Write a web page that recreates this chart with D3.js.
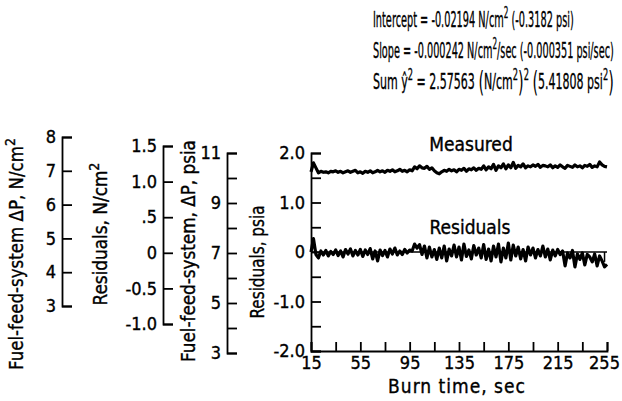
<!DOCTYPE html>
<html>
<head>
<meta charset="utf-8">
<script src="https://cdn.jsdelivr.net/npm/d3@7"></script>
<style>
  body { margin: 0; background: #fff; }
  svg { display: block; }
  text { font-family: "DejaVu Sans Condensed", "DejaVu Sans", sans-serif; font-stretch: condensed; fill: #000; stroke: #000; stroke-width: 0.35; }
  .axis path, .axis line { stroke: #000; stroke-width: 1.8; }
  .axis text { font-size: 18px; fill: #000; font-family: "DejaVu Sans Condensed", "DejaVu Sans", sans-serif; font-stretch: condensed; }
</style>
</head>
<body>
<svg id="chart" width="622" height="401"></svg>
<script>
// burn time every 2 sec
const times = d3.range(15, 256, 2);

// measured pressure drop, psia scale of the main plot (offset)
const measured = [
  1.62, 1.80, 1.70, 1.60, 1.63, 1.61, 1.62, 1.60, 1.63, 1.62,
  1.64, 1.61, 1.63, 1.60, 1.62, 1.64, 1.61, 1.63, 1.65, 1.60,
  1.62, 1.59, 1.63, 1.61, 1.64, 1.60, 1.62, 1.65, 1.62, 1.64,
  1.61, 1.65, 1.63, 1.66, 1.62, 1.64, 1.67, 1.63, 1.65, 1.62,
  1.66, 1.64, 1.72, 1.68, 1.74, 1.70, 1.69, 1.73, 1.67, 1.70,
  1.64, 1.60, 1.58, 1.62, 1.65, 1.63, 1.67, 1.64, 1.66, 1.62,
  1.67, 1.65, 1.69, 1.63, 1.68, 1.66, 1.70, 1.65, 1.69, 1.67,
  1.74, 1.66, 1.72, 1.68, 1.77, 1.65, 1.74, 1.70, 1.78, 1.68,
  1.76, 1.70, 1.81, 1.69, 1.75, 1.72, 1.78, 1.70, 1.74, 1.72,
  1.76, 1.73, 1.77, 1.71, 1.75, 1.74, 1.72, 1.76, 1.70, 1.74,
  1.71, 1.76, 1.72, 1.69, 1.75, 1.73, 1.71, 1.76, 1.72, 1.74,
  1.70, 1.75, 1.73, 1.77, 1.71, 1.74, 1.72, 1.82, 1.76, 1.73,
  1.72
];

// residuals, psia
const residuals = [
  0.00, 0.27, -0.05, -0.12, 0.02, -0.06, 0.03, -0.08, 0.01, -0.05,
  0.04, -0.07, 0.02, -0.10, 0.05, -0.04, 0.06, -0.08, 0.03, -0.06,
  0.05, -0.09, 0.04, -0.05, 0.07, -0.14, 0.02, -0.18, 0.04, -0.07,
  0.03, -0.10, 0.06, -0.04, 0.08, -0.06, 0.02, -0.05, 0.05, -0.02,
  0.04, 0.02, 0.16, 0.08, 0.15, -0.05, 0.12, -0.12, 0.10, -0.10,
  0.05, -0.15, 0.08, -0.12, 0.12, -0.18, 0.06, -0.08, 0.14, -0.10,
  0.10, -0.16, 0.16, -0.09, 0.04, -0.14, 0.13, -0.06, 0.08, -0.12,
  0.15, -0.15, 0.06, -0.18, 0.12, -0.10, 0.16, -0.20, 0.08, -0.12,
  0.18, -0.16, 0.14, -0.08, 0.10, -0.14, 0.05, -0.18, 0.10, -0.06,
  0.08, -0.12, 0.05, -0.08, 0.12, -0.10, 0.06, -0.16, 0.04, -0.08,
  0.05, -0.05, 0.02, -0.28, -0.02, -0.12, 0.03, -0.30, -0.04, -0.15,
  -0.02, -0.26, -0.05, -0.10, -0.20, -0.04, -0.28, -0.08, -0.18, -0.30,
  -0.25
];

// tick values / labels
const xTicks = [15, 35, 55, 75, 95, 115, 135, 155, 175, 195, 215, 235, 255];
const xLabels = [15, 55, 95, 135, 175, 215, 255];
const mainTicks = [-2, -1.5, -1, -0.5, 0, 0.5, 1, 1.5, 2];
const mainLabels = { "-2": "-2.0", "-1": "-1.0", "0": "0", "1": "1.0", "2": "2.0" };
const dpNTicks = [3, 4, 5, 6, 7, 8];
const resNTicks = [-1, -0.5, 0, 0.5, 1, 1.5];
const resNLabels = ["-1.0", "-0.5", "0", ".5", "1.0", "1.5"];
const dpPsiTicks = [3, 4, 5, 6, 7, 8, 9, 10, 11];
const dpPsiLabels = [3, 5, 7, 9, 11];

const svg = d3.select("#chart");

// main scales
const x = d3.scaleLinear().domain([15, 255]).range([311, 607]);
const y = d3.scaleLinear().domain([-2, 2]).range([351, 153]);

// extra scales on the left
const yDpN = d3.scaleLinear().domain([3, 8]).range([306, 137]);
const yResN = d3.scaleLinear().domain([-1, 1.5]).range([324, 146]);
const yDpPsi = d3.scaleLinear().domain([3, 11]).range([353, 153]);

function leftBracketAxis(scale, ticks, fmt, xPos) {
  const ax = d3.axisLeft(scale)
    .tickValues(ticks)
    .tickSizeInner(-10)
    .tickSizeOuter(-10)
    .tickPadding(6)
    .tickFormat(fmt);
  svg.append("g")
    .attr("class", "axis")
    .attr("transform", `translate(${xPos},0)`)
    .call(ax);
}

leftBracketAxis(yDpN, dpNTicks, d => d, 62);
leftBracketAxis(yResN, resNTicks, (d, i) => resNLabels[i], 163);
leftBracketAxis(yDpPsi, dpPsiTicks, d => dpPsiLabels.includes(d) ? d : "", 227);
leftBracketAxis(y, mainTicks, d => mainLabels[String(d)] || "", 311);

// bottom axis
const xAxisG = svg.append("g")
  .attr("class", "axis")
  .attr("transform", `translate(0,${y(-2)})`)
  .call(d3.axisBottom(x)
    .tickValues(xTicks)
    .tickSizeInner(-9)
    .tickSizeOuter(-9)
    .tickPadding(5)
    .tickFormat(d => xLabels.includes(d) ? d : ""));
xAxisG.selectAll(".tick text").filter(d => d === 255).attr("dx", -3);

// zero reference line
svg.append("line")
  .attr("x1", x(15)).attr("x2", x(255))
  .attr("y1", y(0)).attr("y2", y(0))
  .attr("stroke", "#000").attr("stroke-width", 1.5);
svg.append("line")
  .attr("x1", x(253)).attr("x2", x(253))
  .attr("y1", y(0)).attr("y2", y(-0.2))
  .attr("stroke", "#000").attr("stroke-width", 1.5);

// traces
const line = d3.line().x((d, i) => x(times[i])).y(d => y(d));
[measured, residuals].forEach(s => {
  svg.append("path")
    .datum(s)
    .attr("fill", "none")
    .attr("stroke", "#000")
    .attr("stroke-width", 3.2)
    .attr("stroke-linejoin", "round")
    .attr("d", line);
});

// helper: squeeze a text to a given width
function fitWidth(t, w) {
  const bw = t.node().getBBox().width;
  t.attr("transform", `scale(${w / bw},1)`);
}

// rich text from parts: [string, kind] kind: n normal, s superscript, b big
function rich(g, parts, size) {
  const t = g.append("text").attr("font-size", size);
  let shift = 0;
  parts.forEach(([str, kind]) => {
    const sp = t.append("tspan").text(str);
    if (kind === "s") {
      sp.attr("font-size", size * 0.75).attr("dy", -size * 0.42 - shift);
      shift = -size * 0.42;
    } else if (kind === "b") {
      // tall parenthesis, dropped a little below the baseline
      sp.attr("font-size", size * 1.3).attr("stroke-width", 0).attr("dy", size * 0.15 - shift);
      shift = size * 0.15;
    } else {
      sp.attr("dy", -shift);
      shift = 0;
    }
  });
  return t;
}

// rotated axis titles
const titles = [
  { parts: [["Fuel-feed-system  ", "n"], ["\u0394P", "n"], [", N/cm", "n"], ["2", "s"]], cx: 16, cy: 254, len: 232 },
  { parts: [["Residuals, N/cm", "n"], ["2", "s"]], cx: 100, cy: 234, len: 143 },
  { parts: [["Fuel-feed-system,  ", "n"], ["\u0394P", "n"], [", psia", "n"]], cx: 188, cy: 251, len: 222 },
  { parts: [["Residuals, psia", "n"]], cx: 257, cy: 262, len: 113 }
];
titles.forEach(tt => {
  const g = svg.append("g")
    .attr("transform", `translate(${tt.cx + 7},${tt.cy}) rotate(-90)`);
  const t = rich(g, tt.parts, 19).attr("text-anchor", "middle");
  fitWidth(t, tt.len);
});

// series labels
svg.append("text").attr("x", 471).attr("y", 151).attr("text-anchor", "middle")
  .attr("font-size", 19).text("Measured");
svg.append("text").attr("x", 470).attr("y", 234).attr("text-anchor", "middle")
  .attr("font-size", 19).text("Residuals");
svg.append("text").attr("x", 457).attr("y", 393).attr("text-anchor", "middle")
  .attr("font-size", 19).attr("letter-spacing", 1).text("Burn time, sec");

// regression summary
const notes = [
  { parts: [["Intercept = -0.02194 N/cm", "n"], ["2", "s"], [" (-0.3182 psi)", "n"]], y: 27, w: 201 },
  { parts: [["Slope = -0.000242 N/cm", "n"], ["2", "s"], ["/sec (-0.000351 psi/sec)", "n"]], y: 58, w: 241 },
  { parts: [["Sum \u0177", "n"], ["2", "s"], [" = 2.57563 ", "n"], ["(", "b"], ["N/cm", "n"], ["2", "s"], [")", "b"], ["2", "s"],
            ["  ", "n"], ["(", "b"], ["5.41808 psi", "n"], ["2", "s"], [")", "b"]], y: 89, w: 241 }
];
notes.forEach(n => {
  const g = svg.append("g").attr("transform", `translate(373,${n.y})`);
  const t = rich(g, n.parts, 22);
  fitWidth(t, n.w);
});
</script>
</body>
</html>
